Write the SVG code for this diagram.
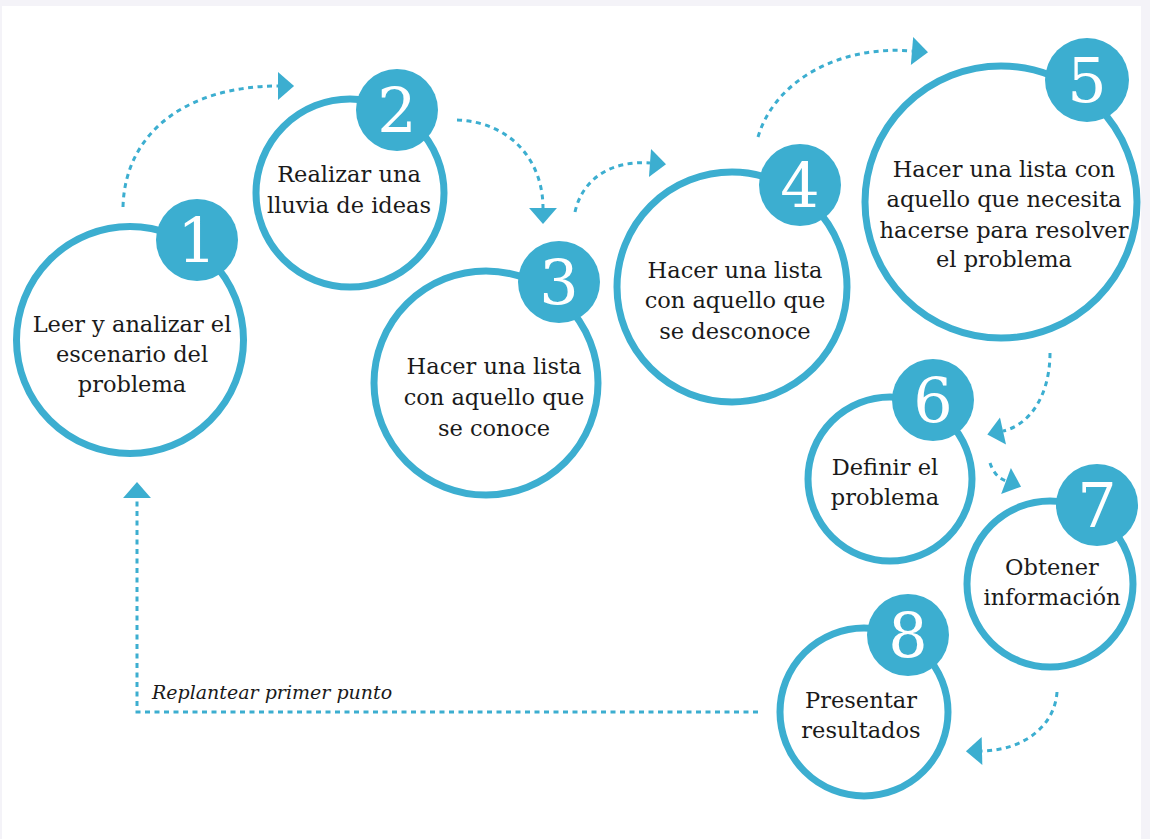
<svg xmlns="http://www.w3.org/2000/svg" width="1150" height="839" viewBox="0 0 1150 839">
<defs>
<style>
.ring{fill:#ffffff;stroke:#3caed0;stroke-width:7}
.badge{fill:#3caed0}
.num{font-family:"DejaVu Serif","Liberation Serif",serif;font-size:62px;fill:#ffffff;text-anchor:middle}
.lbl{font-family:"DejaVu Serif","Liberation Serif",serif;font-size:22.5px;fill:#1a1a1a;text-anchor:middle}
.conn{fill:none;stroke:#3caed0;stroke-width:3;stroke-dasharray:5 4.5}
.note{font-family:"DejaVu Serif","Liberation Serif",serif;font-style:italic;font-size:19px;fill:#1a1a1a}
</style>
<marker id="ah" markerUnits="userSpaceOnUse" markerWidth="18" markerHeight="30" viewBox="0 -14 16 28" refX="0" refY="0" orient="auto">
<polygon points="0,-13 15,0 0,13" fill="#3caed0"/>
</marker>
</defs>
<rect x="0" y="0" width="1150" height="839" fill="#f4f3f8"/>
<rect x="2" y="6" width="1139" height="833" fill="#ffffff"/>

<g id="connectors">
<path class="conn" d="M123,207 C125,130 190,86 278,86" marker-end="url(#ah)"/>
<path class="conn" d="M457,120 C510,122 543,160 543,208" marker-end="url(#ah)"/>
<path class="conn" d="M575,212 C582,180 610,160 650,163" marker-end="url(#ah)"/>
<path class="conn" d="M758,137 C775,80 840,45 912,51" marker-end="url(#ah)"/>
<path class="conn" d="M1050,353 C1050,395 1030,425 1003,431" marker-end="url(#ah)"/>
<path class="conn" d="M990,463 C993,472 998,478 1006,481" marker-end="url(#ah)"/>
<path class="conn" d="M1057,692 C1055,725 1025,750 982,751" marker-end="url(#ah)"/>
<path class="conn" d="M758,712 H137 V498" marker-end="url(#ah)"/>
<text class="note" x="152" y="699">Replantear primer punto</text>
</g>

<g id="node1">
<circle class="ring" cx="130" cy="340" r="113.5"/>
<circle class="badge" cx="197" cy="240" r="41"/>
<text class="num" x="197" y="262">1</text>
<text class="lbl" x="132" y="332">Leer y analizar el</text>
<text class="lbl" x="132" y="362">escenario del</text>
<text class="lbl" x="132" y="392">problema</text>
</g>

<g id="node2">
<circle class="ring" cx="350" cy="193" r="94"/>
<circle class="badge" cx="397" cy="110" r="41"/>
<text class="num" x="397" y="132">2</text>
<text class="lbl" x="349" y="182">Realizar una</text>
<text class="lbl" x="349" y="213">lluvia de ideas</text>
</g>

<g id="node3">
<circle class="ring" cx="486" cy="383" r="112"/>
<circle class="badge" cx="559" cy="282" r="41"/>
<text class="num" x="559" y="304">3</text>
<text class="lbl" x="494" y="374">Hacer una lista</text>
<text class="lbl" x="494" y="405">con aquello que</text>
<text class="lbl" x="494" y="436">se conoce</text>
</g>

<g id="node4">
<circle class="ring" cx="732" cy="287" r="115"/>
<circle class="badge" cx="800" cy="185" r="41"/>
<text class="num" x="800" y="207">4</text>
<text class="lbl" x="735" y="278">Hacer una lista</text>
<text class="lbl" x="735" y="308">con aquello que</text>
<text class="lbl" x="735" y="339">se desconoce</text>
</g>

<g id="node5">
<circle class="ring" cx="1001" cy="202" r="136"/>
<circle class="badge" cx="1087" cy="80" r="42"/>
<text class="num" x="1087" y="102">5</text>
<text class="lbl" x="1004" y="177">Hacer una lista con</text>
<text class="lbl" x="1004" y="207">aquello que necesita</text>
<text class="lbl" x="1004" y="238">hacerse para resolver</text>
<text class="lbl" x="1004" y="267">el problema</text>
</g>

<g id="node6">
<circle class="ring" cx="890" cy="479" r="82"/>
<circle class="badge" cx="933" cy="400" r="41"/>
<text class="num" x="933" y="422">6</text>
<text class="lbl" x="885" y="475">Definir el</text>
<text class="lbl" x="885" y="505">problema</text>
</g>

<g id="node7">
<circle class="ring" cx="1050" cy="584" r="83"/>
<circle class="badge" cx="1097" cy="505" r="41"/>
<text class="num" x="1097" y="527">7</text>
<text class="lbl" x="1052" y="575">Obtener</text>
<text class="lbl" x="1052" y="605">información</text>
</g>

<g id="node8">
<circle class="ring" cx="864" cy="712" r="84"/>
<circle class="badge" cx="908" cy="635" r="41"/>
<text class="num" x="908" y="657">8</text>
<text class="lbl" x="861" y="708">Presentar</text>
<text class="lbl" x="861" y="738">resultados</text>
</g>
</svg>
